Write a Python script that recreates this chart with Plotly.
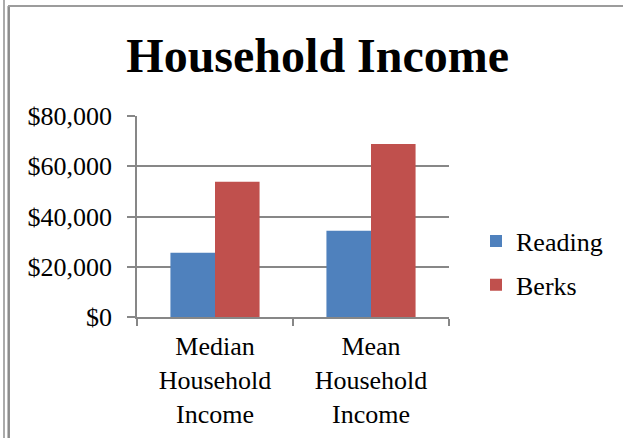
import plotly.graph_objects as go

categories = ["Median<br>Household<br>Income", "Mean<br>Household<br>Income"]
series_names = ["Reading", "Berks"]
reading_values = [25600, 34300]
berks_values = [53800, 68900]
colors = ["#4F81BD", "#C0504D"]
y_tickvals = [0, 20000, 40000, 60000, 80000]
y_ticktext = ["$" + format(v, ",") for v in y_tickvals]

W, H = 623, 438
L, R, T, B = 137, 449, 116, 317  # plot area pixel box


def px_x(px):
    return (px - L) / (R - L)


def px_y(py):
    return (B - py) / (B - T)


FONT = "Liberation Serif, Times New Roman, serif"

fig = go.Figure()
for name, vals, col in zip(series_names, [reading_values, berks_values], colors):
    fig.add_trace(go.Bar(
        x=categories, y=vals, name=name, legendgroup=name,
        marker=dict(color=col, line=dict(width=0)),
    ))

axis_col = "#878787"
fig.update_layout(
    width=W, height=H, autosize=False,
    margin=dict(l=L, r=W - R, t=T, b=H - B, pad=0, autoexpand=False),
    paper_bgcolor="white", plot_bgcolor="white",
    barmode="group", bargap=0.4286, bargroupgap=0,
    font=dict(family=FONT, size=26, color="black"),
    title=dict(text="<b>Household Income</b>", font=dict(family=FONT, size=48, color="black"),
               x=317.7 / W, xanchor="center", xref="container",
               y=1 - 55 / H, yanchor="middle", yref="container"),
    showlegend=True,
    legend=dict(x=px_x(476), xanchor="left", y=px_y(263), yanchor="middle",
                xref="paper", yref="paper", traceorder="grouped", tracegroupgap=7,
                font=dict(family=FONT, size=26, color="black"),
                bgcolor="rgba(0,0,0,0)", itemsizing="constant"),
    xaxis=dict(type="category", automargin=False, showgrid=False, showline=True,
               linecolor=axis_col, linewidth=1.5,
               ticks="outside", tickson="boundaries", ticklen=7, tickcolor=axis_col, tickwidth=1.5,
               tickfont=dict(family=FONT, size=26, color="black"), ticklabelstandoff=5),
    yaxis=dict(range=[0, 80000], automargin=False, tickmode="array", tickvals=y_tickvals, ticktext=y_ticktext,
               showgrid=True, gridcolor=axis_col, gridwidth=1.5, zeroline=False,
               showline=True, linecolor=axis_col, linewidth=1.5,
               ticks="outside", ticklen=8, tickcolor=axis_col, tickwidth=1.5,
               tickfont=dict(family=FONT, size=26, color="black"), ticklabelstandoff=10),
    shapes=[
        dict(type="line", xref="paper", yref="paper", x0=px_x(4), x1=px_x(4), y0=px_y(0), y1=px_y(H),
             line=dict(color="#ababab", width=2)),
        dict(type="line", xref="paper", yref="paper", x0=px_x(8.7), x1=px_x(8.7), y0=px_y(6), y1=px_y(H),
             line=dict(color="#8c8c8c", width=2.5)),
        dict(type="line", xref="paper", yref="paper", x0=px_x(8), x1=px_x(W), y0=px_y(6), y1=px_y(6),
             line=dict(color="#9c9c9c", width=2)),
    ],
)

fig.write_html("out.html", config={"displayModeBar": False},
               post_script="document.body.style.margin='0';document.body.style.overflow='hidden';")
